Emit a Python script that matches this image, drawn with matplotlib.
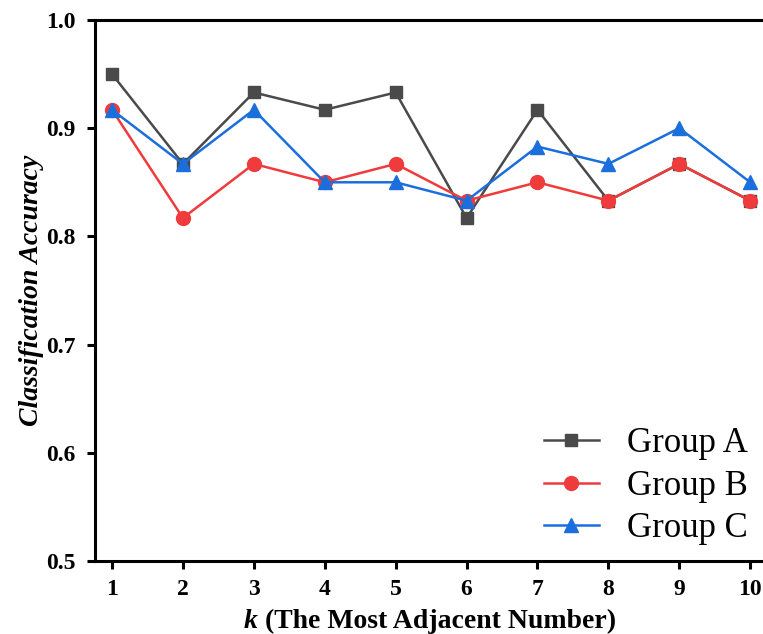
import matplotlib
matplotlib.use("Agg")
import matplotlib.pyplot as plt

k = [1, 2, 3, 4, 5, 6, 7, 8, 9, 10]
group_a = [0.950, 0.867, 0.933, 0.917, 0.933, 0.817, 0.917, 0.833, 0.867, 0.833]
group_b = [0.917, 0.817, 0.867, 0.850, 0.867, 0.833, 0.850, 0.833, 0.867, 0.833]
group_c = [0.917, 0.867, 0.917, 0.850, 0.850, 0.833, 0.883, 0.867, 0.900, 0.850]
labels = ["Group A", "Group B", "Group C"]
yticks = [0.5, 0.6, 0.7, 0.8, 0.9, 1.0]

plt.rcParams['font.family'] = ['Liberation Serif', 'DejaVu Serif']

fig = plt.figure(figsize=(7.63, 6.34), dpi=100)
ax = fig.add_axes([0.1245, 0.1151, 0.8755, 0.8534])

ax.plot(k, group_a, color='#4a4a4a', marker='s', markersize=9, lw=1.8, label=labels[0])
ax.plot(k, group_b, color='#ef3b3b', marker='o', markersize=10, lw=1.8, label=labels[1])
ax.plot(k, group_c, color='#1b6fdc', marker='^', markersize=10.5, lw=1.8, label=labels[2])

ax.set_xlim(0.76, 10.18)
ax.set_ylim(0.5, 1.0)
ax.set_xticks(k)
ax.set_yticks(yticks)
ax.set_yticklabels([f"{v:.1f}" for v in yticks])
for s in ['left', 'bottom', 'top']:
    ax.spines[s].set_linewidth(2.2)
ax.spines['right'].set_visible(False)
ax.tick_params(direction='out', width=2.2, length=6, labelsize=17)
ax.tick_params(axis='x', pad=7)
ax.tick_params(axis='y', pad=8)
for lab in ax.get_xticklabels() + ax.get_yticklabels():
    lab.set_fontweight('bold')

# x label with italic k
t1 = fig.text(0.0, 0.0, "k", fontsize=20, fontweight='bold', style='italic')
t2 = fig.text(0.0, 0.0, " (The Most Adjacent Number)", fontsize=20, fontweight='bold')
fig.canvas.draw()
r = fig.canvas.get_renderer()
w1 = t1.get_window_extent(r).width
w2 = t2.get_window_extent(r).width
total = w1 + w2
cx = 430.0
x0 = cx - total / 2
ybase = 634 - 628
t1.set_position((x0 / 763, ybase / 634))
t2.set_position(((x0 + w1) / 763, ybase / 634))

ax.set_ylabel("Classification Accuracy", fontsize=20, fontweight='bold', style='italic', labelpad=1.5)

leg = ax.legend(loc='lower right', bbox_to_anchor=(1.024, -0.029), frameon=False, fontsize=25,
                handlelength=1.6, handletextpad=0.8, labelspacing=0.28)

fig.savefig("out.png", dpi=100)
